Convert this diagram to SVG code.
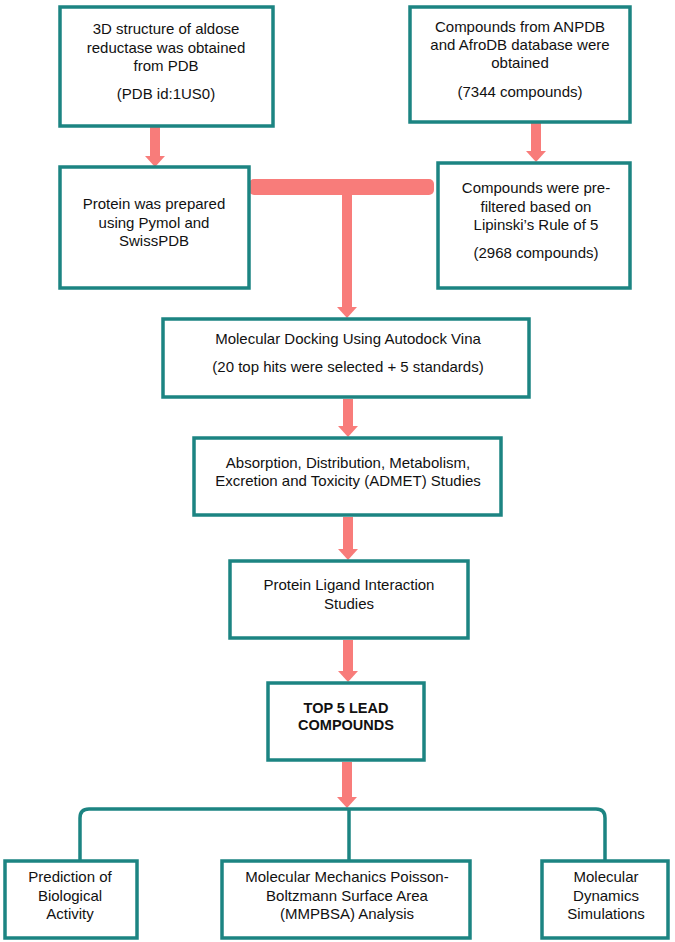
<svg xmlns="http://www.w3.org/2000/svg" width="675" height="942" viewBox="0 0 675 942">
<style>
.box{fill:#fff;stroke:#1c8482;stroke-width:3.5}
.t{font-family:"Liberation Sans",Arial,sans-serif;font-size:15px;fill:#111;text-anchor:middle}
.b{font-weight:bold;font-size:14.5px}
.arr{fill:#f87c7a}
.br{fill:none;stroke:#1c8482;stroke-width:3.5}
</style>
<defs>
<path id="ah" d="M-10 0 L10 0 L0 11 Z"/>
</defs>
<rect width="675" height="942" fill="#fff"/>
<g id="connectors">
<rect class="arr" x="150" y="127" width="10" height="30"/><use href="#ah" class="arr" x="155" y="156"/>
<rect class="arr" x="531" y="123" width="10" height="29"/><use href="#ah" class="arr" x="536" y="151"/>
<rect class="arr" x="249" y="179" width="185" height="16" rx="5"/>
<rect class="arr" x="342" y="194" width="10" height="114"/><use href="#ah" class="arr" x="347" y="307"/>
<rect class="arr" x="343" y="399" width="10" height="28"/><use href="#ah" class="arr" x="348" y="426"/>
<rect class="arr" x="343" y="517" width="10" height="33"/><use href="#ah" class="arr" x="348" y="549"/>
<rect class="arr" x="343" y="640" width="10" height="32"/><use href="#ah" class="arr" x="348" y="671"/>
<rect class="arr" x="342" y="762" width="10" height="36"/><use href="#ah" class="arr" x="347" y="797"/>
<path class="br" d="M80 861 L80 818 Q80 809 89 809 L596 809 Q605 809 605 818 L605 861"/>
<path class="br" d="M349 809 L349 861"/>
</g>
<g id="n1"><rect class="box" x="60" y="7" width="213" height="119"/>
<text class="t" x="166" y="34">3D structure of aldose</text>
<text class="t" x="166" y="53">reductase was obtained</text>
<text class="t" x="166" y="71">from PDB</text>
<text class="t" x="166" y="99">(PDB id:1US0)</text></g>
<g id="n2"><rect class="box" x="410" y="7" width="220" height="115"/>
<text class="t" x="520" y="32">Compounds from ANPDB</text>
<text class="t" x="520" y="50">and AfroDB database were</text>
<text class="t" x="520" y="68">obtained</text>
<text class="t" x="520" y="97">(7344 compounds)</text></g>
<g id="n3"><rect class="box" x="60" y="167" width="189" height="121"/>
<text class="t" x="154" y="209">Protein was prepared</text>
<text class="t" x="154" y="228">using Pymol and</text>
<text class="t" x="154" y="246">SwissPDB</text></g>
<g id="n4"><rect class="box" x="438" y="163" width="192" height="125"/>
<text class="t" x="536" y="193">Compounds were pre-</text>
<text class="t" x="536" y="212">filtered based on</text>
<text class="t" x="536" y="230">Lipinski’s Rule of 5</text>
<text class="t" x="536" y="258">(2968 compounds)</text></g>
<g id="n5"><rect class="box" x="163" y="319" width="366" height="78"/>
<text class="t" x="348" y="344">Molecular Docking Using Autodock Vina</text>
<text class="t" x="348" y="372">(20 top hits were selected + 5 standards)</text></g>
<g id="n6"><rect class="box" x="194" y="438" width="307" height="77"/>
<text class="t" x="348" y="468">Absorption, Distribution, Metabolism,</text>
<text class="t" x="348" y="486">Excretion and Toxicity (ADMET) Studies</text></g>
<g id="n7"><rect class="box" x="230" y="561" width="238" height="77"/>
<text class="t" x="349" y="590">Protein Ligand Interaction</text>
<text class="t" x="349" y="609">Studies</text></g>
<g id="n8"><rect class="box" x="268" y="683" width="156" height="77"/>
<text class="t b" x="346" y="713">TOP 5 LEAD</text>
<text class="t b" x="346" y="730">COMPOUNDS</text></g>
<g id="n9"><rect class="box" x="5" y="861" width="132" height="77"/>
<text class="t" x="70" y="882">Prediction of</text>
<text class="t" x="70" y="901">Biological</text>
<text class="t" x="70" y="919">Activity</text></g>
<g id="n10"><rect class="box" x="222" y="861" width="248" height="77"/>
<text class="t" x="347" y="882">Molecular Mechanics Poisson-</text>
<text class="t" x="347" y="901">Boltzmann Surface Area</text>
<text class="t" x="347" y="919">(MMPBSA) Analysis</text></g>
<g id="n11"><rect class="box" x="542" y="861" width="126" height="77"/>
<text class="t" x="606" y="882">Molecular</text>
<text class="t" x="606" y="901">Dynamics</text>
<text class="t" x="606" y="919">Simulations</text></g>
</svg>
